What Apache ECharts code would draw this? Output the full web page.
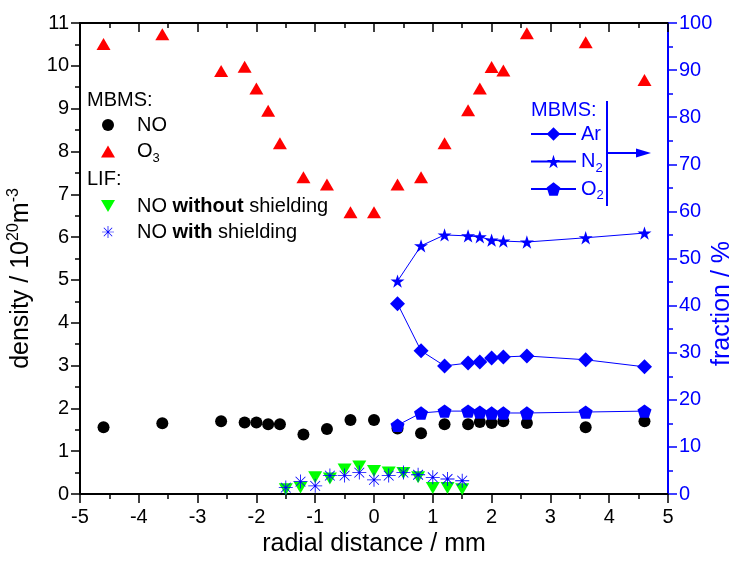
<!DOCTYPE html>
<html>
<head>
<meta charset="utf-8">
<script src="https://cdn.jsdelivr.net/npm/echarts@6/dist/echarts.min.js"></script>
<style>
html,body{margin:0;padding:0;background:#fff;}
#chart{width:734px;height:561px;}
</style>
</head>
<body>
<div id="chart"></div>
<script>
// ---- data ----
var xMBMS = [-4.6,-3.6,-2.6,-2.2,-2.0,-1.8,-1.6,-1.2,-0.8,-0.4,0,0.4,0.8,1.2,1.6,1.8,2.0,2.2,2.6,3.6,4.6];
var o3 = [10.51,10.74,9.88,9.98,9.47,8.95,8.19,7.40,7.23,6.58,6.58,7.23,7.40,8.19,8.96,9.47,9.97,9.89,10.76,10.55,9.67];
var noMBMS = [1.56,1.65,1.70,1.67,1.67,1.63,1.63,1.39,1.52,1.73,1.73,1.53,1.42,1.63,1.63,1.68,1.66,1.70,1.66,1.56,1.70];

var xLIF = [-1.5,-1.25,-1,-0.75,-0.5,-0.25,0,0.25,0.5,0.75,1,1.25,1.5];
var noWithout = [0.11,0.15,0.39,0.36,0.57,0.64,0.54,0.50,0.49,0.39,0.14,0.14,0.11];
var noWith = [0.15,0.29,0.19,0.43,0.43,0.50,0.33,0.43,0.50,0.45,0.39,0.35,0.31];

var xFrac = [0.4,0.8,1.2,1.6,1.8,2.0,2.2,2.6,3.6,4.6];
var ar = [40.4,30.4,27.2,27.8,28.0,28.9,29.1,29.3,28.5,27.0];
var n2 = [45.2,52.7,55.0,54.8,54.6,53.9,53.7,53.5,54.4,55.4];
var o2 = [14.6,17.2,17.6,17.6,17.4,17.2,17.2,17.2,17.4,17.6];

var xTicks = [-5,5,1];
var yLeftTicks = [0,11,1];
var yRightTicks = [0,100,10];

function pairs(xs, ys){ return xs.map(function(x,i){ return [x, ys[i]]; }); }

var FONT = '"Liberation Sans", Arial, sans-serif';
var BLUE = '#0000FF';

var invTri = 'path://M0,0 L14,0 L7,12 Z';
var asterisk = 'path://M0,9.4 L20,9.4 L20,10.6 L0,10.6 Z M9.4,0 L10.6,0 L10.6,20 L9.4,20 Z M3.42,2.58 L17.42,16.58 L16.58,17.42 L2.58,3.42 Z M17.42,3.42 L3.42,17.42 L2.58,16.58 L16.58,2.58 Z';
var star = 'path://M50,0 L61.23,34.55 L97.55,34.55 L68.16,55.9 L79.39,90.45 L50,69.1 L20.61,90.45 L31.84,55.9 L2.45,34.55 L38.77,34.55 Z';
var pentagon = 'path://M50,0 L97.55,34.55 L79.39,90.45 L20.61,90.45 L2.45,34.55 Z';

var legText = {
  fontFamily: FONT, fontSize: 20, color: '#000', lineHeight: 26,
  rich: {
    t: {fontFamily: FONT, fontSize: 20, lineHeight: 26, padding: [0,0,0,17]},
    b: {fontFamily: FONT, fontSize: 20, lineHeight: 26, fontWeight: 'bold'},
    r: {fontFamily: FONT, fontSize: 20, lineHeight: 26},
    s: {fontFamily: FONT, fontSize: 13, lineHeight: 13, verticalAlign: 'bottom'}
  }
};
var legTextBlue = JSON.parse(JSON.stringify(legText));
legTextBlue.color = BLUE;
['t','b','r','s'].forEach(function(k){ legTextBlue.rich[k].color = BLUE; });
legTextBlue.rich.t.padding = [0,0,0,0];

var chart = echarts.init(document.getElementById('chart'), null, {renderer: 'canvas'});

var option = {
  animation: false,
  backgroundColor: '#fff',
  textStyle: {fontFamily: FONT},
  grid: {left: 80, right: 66, top: 23, bottom: 67, containLabel: false, outerBoundsMode: 'none'},
  xAxis: [{
    type: 'value', min: xTicks[0], max: xTicks[1], interval: xTicks[2],
    position: 'bottom',
    name: 'radial distance / mm', nameLocation: 'middle', nameGap: 38, nameMoveOverlap: false,
    nameTextStyle: {fontFamily: FONT, fontSize: 25, color: '#000'},
    axisLine: {show: true, onZero: false, lineStyle: {color: '#000', width: 2}},
    axisTick: {show: true, inside: false, length: 9, lineStyle: {color: '#000', width: 1.5}},
    minorTick: {show: true, splitNumber: 2, length: 5, lineStyle: {color: '#000', width: 1.5}},
    axisLabel: {fontFamily: FONT, fontSize: 20, color: '#000', margin: 13},
    splitLine: {show: false}
  }, {
    type: 'value', min: xTicks[0], max: xTicks[1], interval: xTicks[2],
    position: 'top',
    axisLine: {show: true, onZero: false, lineStyle: {color: '#000', width: 2}},
    axisTick: {show: true, inside: true, length: 9, lineStyle: {color: '#000', width: 1.5}},
    minorTick: {show: true, splitNumber: 2, length: 5, lineStyle: {color: '#000', width: 1.5}},
    axisLabel: {show: false},
    splitLine: {show: false}
  }],
  yAxis: [{
    type: 'value', min: yLeftTicks[0], max: yLeftTicks[1], interval: yLeftTicks[2],
    position: 'left',
    name: 'density / 10{sup|20}m{sup|-3}', nameLocation: 'middle', nameGap: 44, nameRotate: 90, nameMoveOverlap: false,
    nameTextStyle: {fontFamily: FONT, fontSize: 25, color: '#000', lineHeight: 30, padding: [0, 40, 0, 0],
      rich: {sup: {fontFamily: FONT, fontSize: 16, lineHeight: 16, verticalAlign: 'top', color: '#000'}}},
    axisLine: {show: true, onZero: false, lineStyle: {color: '#000', width: 2}},
    axisTick: {show: true, inside: false, length: 9, lineStyle: {color: '#000', width: 1.5}},
    minorTick: {show: true, splitNumber: 2, length: 5, lineStyle: {color: '#000', width: 1.5}},
    axisLabel: {fontFamily: FONT, fontSize: 20, color: '#000', margin: 11},
    splitLine: {show: false}
  }, {
    type: 'value', min: yRightTicks[0], max: yRightTicks[1], interval: yRightTicks[2],
    position: 'right',
    name: 'fraction / %', nameLocation: 'middle', nameGap: 42, nameRotate: 90, nameMoveOverlap: false,
    nameTextStyle: {fontFamily: FONT, fontSize: 25, color: BLUE, padding: [0, 90, 0, 0]},
    axisLine: {show: true, onZero: false, lineStyle: {color: BLUE, width: 2}},
    axisTick: {show: true, inside: false, length: 9, lineStyle: {color: BLUE, width: 1.5}},
    minorTick: {show: true, splitNumber: 2, length: 5, lineStyle: {color: BLUE, width: 1.5}},
    axisLabel: {fontFamily: FONT, fontSize: 20, color: BLUE, margin: 11},
    splitLine: {show: false}
  }],
  legend: [{
    orient: 'vertical', left: 101, top: 112, padding: 0, itemGap: 0.5,
    itemWidth: 14, itemHeight: 12, selectedMode: false,
    data: [{name: 'NO', icon: 'circle'}, {name: 'O3', icon: 'triangle'}],
    formatter: function(n){ return n === 'O3' ? '{t|O}{s|3}' : '{t|' + n + '}'; },
    textStyle: legText
  }, {
    orient: 'vertical', left: 101, top: 193, padding: 0, itemGap: 0,
    itemWidth: 14, itemHeight: 12, selectedMode: false,
    data: [{name: 'NO without shielding', icon: invTri}, {name: 'NO with shielding', icon: asterisk}],
    formatter: function(n){
      return n === 'NO without shielding' ? '{t|NO }{b|without}{r| shielding}' : '{t|NO }{b|with}{r| shielding}';
    },
    textStyle: legText
  }, {
    orient: 'vertical', left: 530, top: 121, padding: 0, itemGap: 1.5,
    itemWidth: 45, itemHeight: 17, selectedMode: false,
    data: ['Ar', 'N2', 'O2'],
    formatter: function(n){ return n === 'Ar' ? '{r|Ar}' : '{r|' + n.charAt(0) + '}{s|2}'; },
    textStyle: legTextBlue
  }],
  graphic: [
    {type: 'text', x: 87, y: 100.5, style: {text: 'MBMS:', font: '20px ' + FONT, fill: '#000', verticalAlign: 'middle'}},
    {type: 'text', x: 87, y: 179, style: {text: 'LIF:', font: '20px ' + FONT, fill: '#000', verticalAlign: 'middle'}},
    {type: 'text', x: 531, y: 110, style: {text: 'MBMS:', font: '20px ' + FONT, fill: BLUE, verticalAlign: 'middle'}},
    {type: 'line', shape: {x1: 607, y1: 101, x2: 607, y2: 206}, style: {stroke: BLUE, lineWidth: 2}},
    {type: 'line', shape: {x1: 607, y1: 153, x2: 640, y2: 153}, style: {stroke: BLUE, lineWidth: 2}},
    {type: 'polygon', shape: {points: [[636,148.5],[651,153],[636,157.5]]}, style: {fill: BLUE}}
  ],
  series: [{
    name: 'O3', type: 'scatter', xAxisIndex: 0, yAxisIndex: 0,
    symbol: 'triangle', symbolSize: [14, 12],
    itemStyle: {color: '#FF0000', opacity: 1},
    data: pairs(xMBMS, o3), z: 2
  }, {
    name: 'NO', type: 'scatter', xAxisIndex: 0, yAxisIndex: 0,
    symbol: 'circle', symbolSize: 12,
    itemStyle: {color: '#000', opacity: 1},
    data: pairs(xMBMS, noMBMS), z: 3
  }, {
    name: 'NO without shielding', type: 'scatter', xAxisIndex: 0, yAxisIndex: 0,
    symbol: invTri, symbolSize: [14, 12],
    itemStyle: {color: '#00FF00', opacity: 1},
    data: pairs(xLIF, noWithout), z: 4
  }, {
    name: 'NO with shielding', type: 'scatter', xAxisIndex: 0, yAxisIndex: 0,
    symbol: asterisk, symbolSize: 14,
    itemStyle: {color: BLUE, opacity: 1},
    data: pairs(xLIF, noWith), z: 5
  }, {
    name: 'Ar', type: 'line', xAxisIndex: 0, yAxisIndex: 1,
    symbol: 'diamond', symbolSize: 15, showAllSymbol: true,
    lineStyle: {color: BLUE, width: 1}, itemStyle: {color: BLUE},
    data: pairs(xFrac, ar), z: 6
  }, {
    name: 'N2', type: 'line', xAxisIndex: 0, yAxisIndex: 1,
    symbol: star, symbolSize: 14, symbolKeepAspect: true, showAllSymbol: true,
    lineStyle: {color: BLUE, width: 1}, itemStyle: {color: BLUE},
    data: pairs(xFrac, n2), z: 6
  }, {
    name: 'O2', type: 'line', xAxisIndex: 0, yAxisIndex: 1,
    symbol: pentagon, symbolSize: 14, symbolKeepAspect: true, showAllSymbol: true,
    lineStyle: {color: BLUE, width: 1}, itemStyle: {color: BLUE},
    data: pairs(xFrac, o2), z: 6
  }]
};
chart.setOption(option);
</script>
</body>
</html>
